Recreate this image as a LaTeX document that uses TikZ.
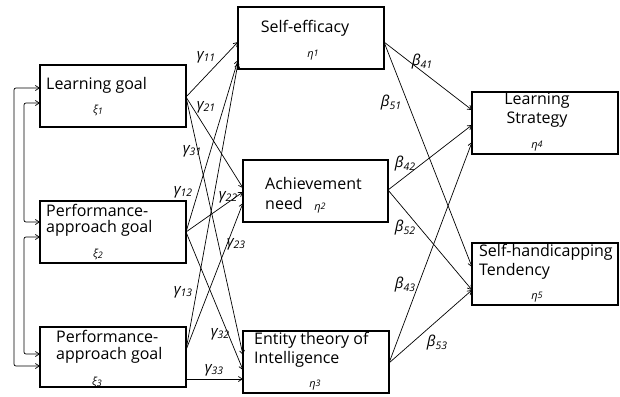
\documentclass[tikz,border=0pt]{standalone}
\usepackage{fontspec}
\setmainfont{Open Sans}
\usetikzlibrary{arrows.meta}
\tikzset{
  box/.style={draw, line width=1.6pt, minimum width=146pt, minimum height=62pt, inner sep=0pt},
  txt/.style={font=\fontsize{16}{17}\selectfont, inner sep=0pt, anchor=west},
  txtc/.style={font=\fontsize{16}{17}\selectfont, inner sep=0pt},
  sym/.style={font=\fontsize{11}{12}\selectfont\itshape, inner sep=0pt},
  lab/.style={font=\fontsize{15}{16}\selectfont\itshape, inner sep=0pt},
  arr/.style={-{Straight Barb[length=4pt,width=5pt]}, line width=0.7pt},
  darr/.style={{Straight Barb[length=4pt,width=5pt]}-{Straight Barb[length=4pt,width=5pt]}, line width=0.7pt, rounded corners=2pt},
}
\newcommand{\gl}[2]{\textit{#1}\raisebox{-2.5pt}{\fontsize{10.5}{11}\selectfont\itshape #2}}
\newcommand{\sx}[2]{#1\raisebox{-1pt}{\fontsize{9}{10}\selectfont\itshape #2}}
\newcommand{\se}[2]{#1\raisebox{1.5pt}{\fontsize{9}{10}\selectfont\itshape #2}}
\begin{document}
\begin{tikzpicture}[x=1pt,y=-1pt]
\useasboundingbox (0,0) rectangle (620,396);
% boxes
\node[box] (lg) at (113,96) {};
\node[box] (pa) at (113,232) {};
\node[box, minimum height=60pt] (pb) at (113,357) {};
\node[box] (se) at (311,38) {};
\node[box, minimum width=145pt] (an) at (315.5,191) {};
\node[box] (en) at (316,362) {};
\node[box] (ls) at (545,123) {};
\node[box] (sh) at (545,274) {};
% texts
\node[txt] (t1) at (46,85) {Learning goal};
\node[sym] (x1) at (98,110) {\sx{ξ}{1}};
\node[txt] (t2a) at (46,210) {Performance-};
\node[txt] (t2b) at (46,228) {approach goal};
\node[sym] (x2) at (98,254) {\sx{ξ}{2}};
\node[txt] (t3a) at (56,336) {Performance-};
\node[txt] (t3b) at (56,355) {approach goal};
\node[sym] (x3) at (97,382) {\sx{ξ}{3}};
\node[txtc] (t4) at (305,28) {Self-efficacy};
\node[sym] (e1) at (313,55) {\se{η}{1}};
\node[txt] (t5a) at (265,183) {Achievement};
\node[txt] (t5b) at (265,203) {need};
\node[sym] (e2) at (320,208) {\se{η}{2}};
\node[txt] (t6a) at (254,340) {Entity theory of};
\node[txt] (t6b) at (254,359) {Intelligence};
\node[sym] (e3) at (315,385) {\se{η}{3}};
\node[txtc] (t7a) at (537,101) {Learning};
\node[txtc] (t7b) at (537,120) {Strategy};
\node[sym] (e4) at (537,146) {\se{η}{4}};
\node[txt] (t8a) at (479,252) {Self-handicapping};
\node[txt] (t8b) at (479,271) {Tendency};
\node[sym] (e5) at (537,297) {\se{η}{5}};
% anchor coordinates
\coordinate (lgE) at (186,97);
\coordinate (paE) at (186,232);
\coordinate (pbE) at (186,350);
\coordinate (pbE2) at (186,379);
\coordinate (se1) at (238,42);
\coordinate (se2) at (238,60);
\coordinate (se3) at (238,63);
\coordinate (an1) at (243,188);
\coordinate (an2) at (243,192);
\coordinate (an3) at (243,203);
\coordinate (en1) at (243,355);
\coordinate (en2) at (243,370);
\coordinate (en3) at (243,379);
\coordinate (seE) at (384,42);
\coordinate (anE) at (388,190);
\coordinate (enE) at (389,363);
\coordinate (ls1) at (472,110);
\coordinate (ls2) at (472,125);
\coordinate (ls3) at (472,142);
\coordinate (sh1) at (472,267);
\coordinate (sh2) at (472,290);
\coordinate (lgW1) at (40,88);
\coordinate (lgW2) at (40,103);
\coordinate (paW1) at (40,222);
\coordinate (paW2) at (40,237);
\coordinate (pbW1) at (40,354);
\coordinate (pbW2) at (40,366);
% gamma paths
\draw[arr] (lgE) -- (se1);
\draw[arr] (lgE) -- (an1);
\draw[arr] (lgE) -- (en1);
\draw[arr] (paE) -- (se2);
\draw[arr] (paE) -- (an2);
\draw[arr] (paE) -- (en2);
\draw[arr] (pbE) -- (se3);
\draw[arr] (pbE) -- (an3);
\draw[arr] (pbE2) -- (en3);
% beta paths
\draw[arr] (seE) -- (ls1);
\draw[arr] (seE) -- (sh1);
\draw[arr] (anE) -- (ls2);
\draw[arr] (anE) -- (sh2);
\draw[arr] (enE) -- (ls3);
\draw[arr] (enE) -- (sh2);
% correlations
\draw[darr] (lgW1) -- (14,88) -- (14,366) -- (pbW2);
\draw[darr] (lgW2) -- (24,103) -- (24,222) -- (paW1);
\draw[darr] (paW2) -- (24,237) -- (24,354) -- (pbW1);
% labels
\node[lab] (g11) at (206,57) {\gl{γ}{11}};
\node[lab] (g21) at (206,107) {\gl{γ}{21}};
\node[lab] (g31) at (192,151) {\gl{γ}{31}};
\node[lab] (g12) at (183,192) {\gl{γ}{12}};
\node[lab] (g22) at (228,197) {\gl{γ}{22}};
\node[lab] (g23) at (236,244) {\gl{γ}{23}};
\node[lab] (g13) at (183,292) {\gl{γ}{13}};
\node[lab] (g32) at (220,334) {\gl{γ}{32}};
\node[lab] (g33) at (214,370) {\gl{γ}{33}};
\node[lab] (b41) at (422,62) {\gl{β}{41}};
\node[lab] (b51) at (391,103) {\gl{β}{51}};
\node[lab] (b42) at (405,164) {\gl{β}{42}};
\node[lab] (b52) at (405,228) {\gl{β}{52}};
\node[lab] (b43) at (405,285) {\gl{β}{43}};
\node[lab] (b53) at (437,343) {\gl{β}{53}};
\end{tikzpicture}
\end{document}
